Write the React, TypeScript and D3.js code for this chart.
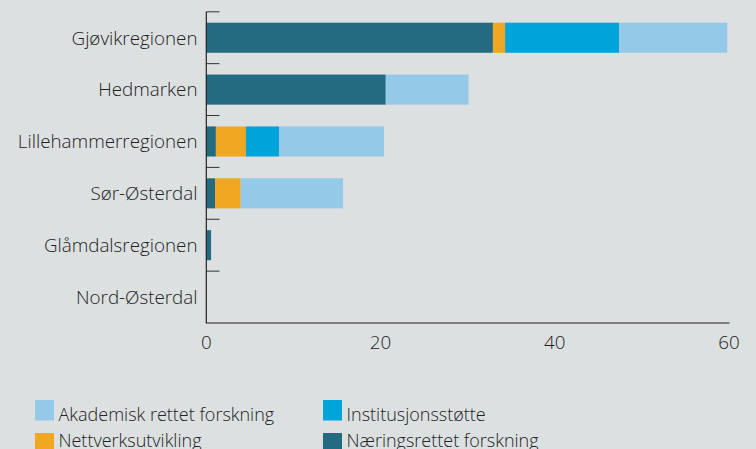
import React from "react";
import * as d3 from "d3";

const categories = ["Gjøvikregionen", "Hedmarken", "Lillehammerregionen", "Sør-Østerdal", "Glåmdalsregionen", "Nord-Østerdal"];
const seriesNames = ["Næringsrettet forskning", "Nettverksutvikling", "Institusjonsstøtte", "Akademisk rettet forskning"];
const naeringsrettet = [32.9, 20.6, 1.1, 1.0, 0.55, 0];
const nettverk = [1.4, 0, 3.45, 2.95, 0, 0];
const institusjon = [13.1, 0, 3.8, 0, 0, 0];
const akademisk = [12.4, 9.5, 12.05, 11.75, 0, 0];
const xTicks = [0, 20, 40, 60];
const colors = ["#246a80", "#f0a823", "#00a3da", "#94c9e8"];
const legendOrder = [3, 2, 1, 0];

export default function App() {
  const W = 756, H = 449;
  const x = d3.scaleLinear().domain([0, 60]).range([206.3, 729]);
  const y = d3.scaleBand<string>().domain(categories).range([11.8, 323]).paddingInner(0.42).paddingOuter(0.21);
  const rows = categories.map((c, i) => ({ c, v: [naeringsrettet[i], nettverk[i], institusjon[i], akademisk[i]] }));
  const font = "'Open Sans', sans-serif";
  const fw = 300;
  const fs = 18.8;
  const fsLeg = 18;
  const step = y.step();
  const top0 = 11.8;
  return (
    <svg width={W} height={H} style={{ position: "absolute", left: 0, top: 0, display: "block" }}>
      <rect x={0} y={0} width={W} height={H} fill="#dce0e1" />
      {rows.map((r) => {
        let acc = 0;
        return r.v.map((v, k) => {
          const x0 = x(acc);
          acc += v;
          if (v <= 0) return null;
          return <rect key={r.c + k} x={x0} y={y(r.c)} width={x(acc) - x0} height={y.bandwidth()} fill={colors[k]} />;
        });
      })}
      {categories.map((c, i) => (
        <line key={"t" + c} x1={206.3} x2={219.5} y1={top0 + i * step} y2={top0 + i * step} stroke="#333" strokeWidth={1} />
      ))}
      <line x1={206.3} x2={206.3} y1={top0} y2={323} stroke="#222" strokeWidth={1.2} />
      <line x1={205.7} x2={729.5} y1={323} y2={323} stroke="#222" strokeWidth={1.2} />
      {categories.map((c) => (
        <text key={"l" + c} x={197.5} y={(y(c) as number) + y.bandwidth() / 2} dy="0.36em" textAnchor="end" fontFamily={font} fontWeight={fw} fontSize={fs} fill="#222">{c}</text>
      ))}
      {xTicks.map((t) => (
        <text key={"x" + t} x={x(t)} y={349} textAnchor="middle" fontFamily={font} fontWeight={fw} fontSize={fs} fill="#222">{t}</text>
      ))}
      {legendOrder.map((k, j) => {
        const col = j % 2, row = Math.floor(j / 2);
        const lx = col === 0 ? 35 : 323;
        const ly = 400 + row * 33;
        return (
          <g key={"lg" + k}>
            <rect x={lx} y={ly} width={19} height={20.5} fill={colors[k]} />
            <text x={lx + 23.5} y={ly + 20.5 - row * 7} fontFamily={font} fontWeight={fw} fontSize={fsLeg} fill="#222">{seriesNames[k]}</text>
          </g>
        );
      })}
    </svg>
  );
}
